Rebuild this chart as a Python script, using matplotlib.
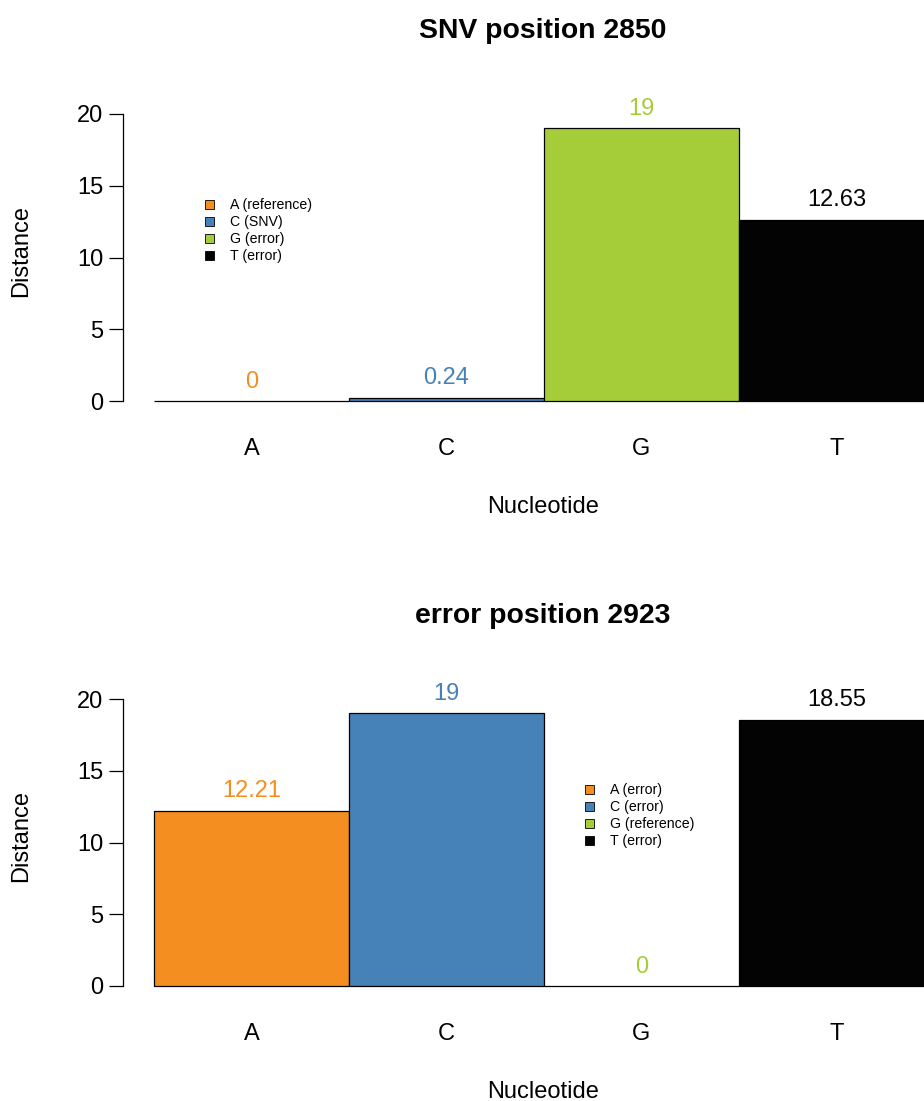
import matplotlib
matplotlib.use("Agg")
import matplotlib.pyplot as plt
from matplotlib.patches import Patch

plt.rcParams['font.family'] = ['Liberation Sans', 'DejaVu Sans']

# nucleotide distances for the two positions
nucleotides = ['A', 'C', 'G', 'T']
bar_colors = ['#F58E20', '#4682B8', '#A5CD39', '#030303']

snv_title = 'SNV position 2850'
snv_dist = [0, 0.24, 19, 12.63]
snv_labels = ['0', '0.24', '19', '12.63']
snv_legend = ['A (reference)', 'C (SNV)', 'G (error)', 'T (error)']

err_title = 'error position 2923'
err_dist = [12.21, 19, 0, 18.55]
err_labels = ['12.21', '19', '0', '18.55']
err_legend = ['A (error)', 'C (error)', 'G (reference)', 'T (error)']

W, H = 924, 1101
BASE = 17  # base text size, like cex = 1
fig = plt.figure(figsize=(W / 100, H / 100), dpi=100)


def draw_panel(y_zero, title, dist, labels, legend_txt, legend_xy):
    # y_zero: pixel row of the zero line, 20 sits 287 px above it
    ax = fig.add_axes([123 / W, (H - y_zero) / H, (W - 123) / W, 287 / H])
    ax.bar(range(4), dist, width=1.0, color=bar_colors, edgecolor='black',
           linewidth=0.9, clip_on=False)
    ax.set_xlim(-0.659, 3.449)
    ax.set_ylim(0, 20)
    for i, (v, s) in enumerate(zip(dist, labels)):
        ax.text(i, v + 1.35, s, color=bar_colors[i], ha='center', va='center',
                fontsize=BASE)
    for side in ['top', 'right', 'bottom']:
        ax.spines[side].set_visible(False)
    ax.spines['left'].set_bounds(0, 20)
    ax.spines['left'].set_linewidth(0.9)
    ax.set_yticks([0, 5, 10, 15, 20])
    ax.tick_params(axis='y', length=10, width=0.9, pad=4, labelsize=BASE)
    ax.set_xticks(range(4))
    ax.set_xticklabels(nucleotides)
    ax.tick_params(axis='x', length=0, pad=26.5, labelsize=BASE)
    ax.set_xlabel('Nucleotide', fontsize=BASE)
    ax.xaxis.set_label_coords(0.524, -95 / 287)
    ax.set_ylabel('Distance', fontsize=BASE)
    ax.yaxis.set_label_coords(-91 / 801, 0.523)
    ax.text(0.524, 1 + 83 / 287, title, transform=ax.transAxes,
            ha='center', va='center', fontsize=BASE * 1.2, fontweight='bold')
    handles = [Patch(facecolor=c, edgecolor='black', linewidth=0.6)
               for c in bar_colors]
    ax.legend(handles, legend_txt, loc='upper left', frameon=False,
              fontsize=BASE * 0.6, handlelength=0.6, handleheight=0.6,
              handletextpad=1.15, labelspacing=0.22, borderpad=0,
              borderaxespad=0,
              bbox_to_anchor=(legend_xy[0] / W, 1 - legend_xy[1] / H),
              bbox_transform=fig.transFigure)
    return ax


draw_panel(401, snv_title, snv_dist, snv_labels, snv_legend, (205, 198))
draw_panel(986, err_title, err_dist, err_labels, err_legend, (585, 783))

fig.savefig('out.png', dpi=100)
